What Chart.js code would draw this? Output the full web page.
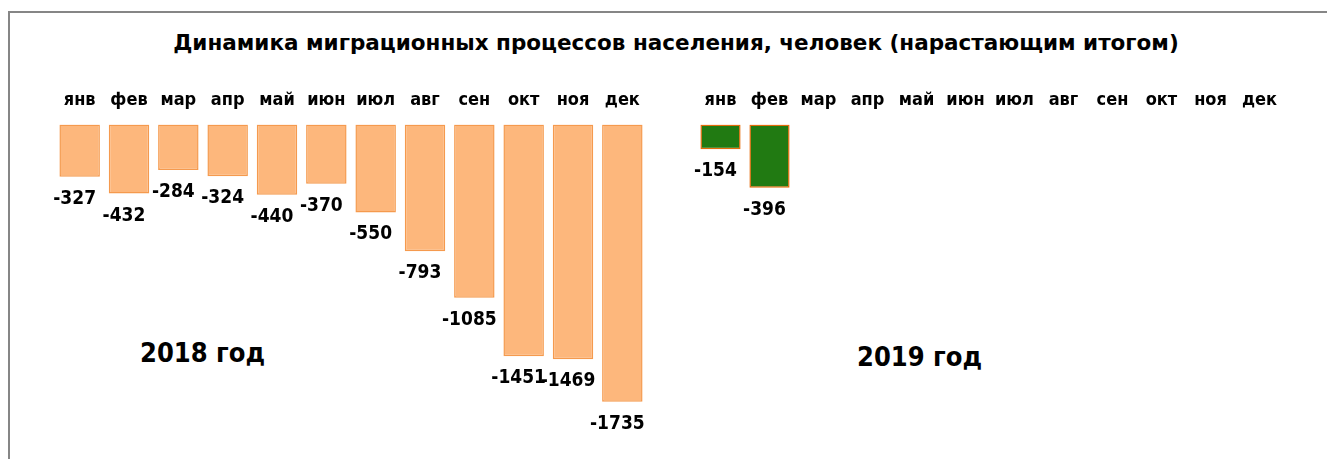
<!DOCTYPE html>
<html>
<head>
<meta charset="utf-8">
<script src="https://cdn.jsdelivr.net/npm/chart.js"></script>
<style>
    body {
        margin: 0;
        width: 1327px;
        height: 459px;
        overflow: hidden;
        background: #fff;
        position: relative;
        font-family: "DejaVu Sans Condensed", "DejaVu Sans", sans-serif;
    }
    .frame {
        position: absolute;
        left: 8px;
        top: 11px;
        width: 1400px;
        height: 500px;
        border-left: 2px solid #868686;
        border-top: 2px solid #868686;
    }
    .title {
        position: absolute;
        left: 0;
        width: 1352px;
        top: 31px;
        text-align: center;
        font-family: "DejaVu Sans", sans-serif;
        font-weight: bold;
        font-size: 21.5px;
        line-height: 24px;
        color: #000;
        white-space: nowrap;
    }
    .year {
        position: absolute;
        font-weight: bold;
        font-size: 27px;
        line-height: 27px;
        color: #000;
        white-space: nowrap;
    }
    canvas {
        position: absolute;
        top: 0;
    }
</style>
</head>
<body>
    <div class="frame"></div>
    <div class="title">Динамика миграционных процессов населения, человек (нарастающим итогом)</div>
    <div class="year" style="left:140px; top:339px;">2018 год</div>
    <div class="year" style="left:857px; top:343px;">2019 год</div>
    <div id="box2018" style="position:absolute; left:0; top:0; width:670px; height:459px;"><canvas id="c2018"></canvas></div>
    <div id="box2019" style="position:absolute; left:670px; top:0; width:657px; height:459px;"><canvas id="c2019"></canvas></div>
    <script>
        const months = ["янв", "фев", "мар", "апр", "май", "июн", "июл", "авг", "сен", "окт", "ноя", "дек"];
        const values2018 = [-327, -432, -284, -324, -440, -370, -550, -793, -1085, -1451, -1469, -1735];
        const values2019 = [-154, -396, null, null, null, null, null, null, null, null, null, null];

        // подписи значений под столбцами
        const valueLabels = {
            id: "valueLabels",
            afterDatasetsDraw(chart) {
                const ctx = chart.ctx;
                const meta = chart.getDatasetMeta(0);
                const data = chart.data.datasets[0].data;
                ctx.save();
                ctx.font = "bold 19px 'DejaVu Sans Condensed', 'DejaVu Sans', sans-serif";
                ctx.fillStyle = "#000";
                ctx.textAlign = "center";
                ctx.textBaseline = "middle";
                meta.data.forEach(function (bar, i) {
                    if (data[i] === null) return;
                    ctx.fillText(String(data[i]), bar.x - 5, bar.y + 22);
                });
                ctx.restore();
            }
        };

        function makeChart(id, values, fill, border, padLeft, padRight) {
            return new Chart(document.getElementById(id), {
                type: "bar",
                data: {
                    labels: months,
                    datasets: [{
                        data: values,
                        backgroundColor: fill,
                        borderColor: border,
                        borderWidth: 1.5,
                        borderSkipped: false,
                        categoryPercentage: 1,
                        barPercentage: 0.82
                    }]
                },
                options: {
                    responsive: true,
                    maintainAspectRatio: false,
                    animation: false,
                    layout: {
                        padding: { left: padLeft, right: padRight, top: 77, bottom: 15 }
                    },
                    plugins: {
                        legend: { display: false },
                        tooltip: { enabled: false }
                    },
                    scales: {
                        x: {
                            position: "top",
                            grid: { display: false, drawTicks: false, tickLength: 0 },
                            border: { display: false },
                            ticks: {
                                color: "#000",
                                padding: 13,
                                maxRotation: 0,
                                autoSkip: false,
                                font: { family: "'DejaVu Sans Condensed', 'DejaVu Sans', sans-serif", weight: "bold", size: 18 }
                            }
                        },
                        y: {
                            display: false,
                            min: -2000,
                            max: 0
                        }
                    }
                },
                plugins: [valueLabels]
            });
        }

        makeChart("c2018", values2018, "#FDB77C", "#F59A4E", 55, 23);
        makeChart("c2019", values2019, "#217A12", "#E46C0A", 26, 43);
    </script>
</body>
</html>
